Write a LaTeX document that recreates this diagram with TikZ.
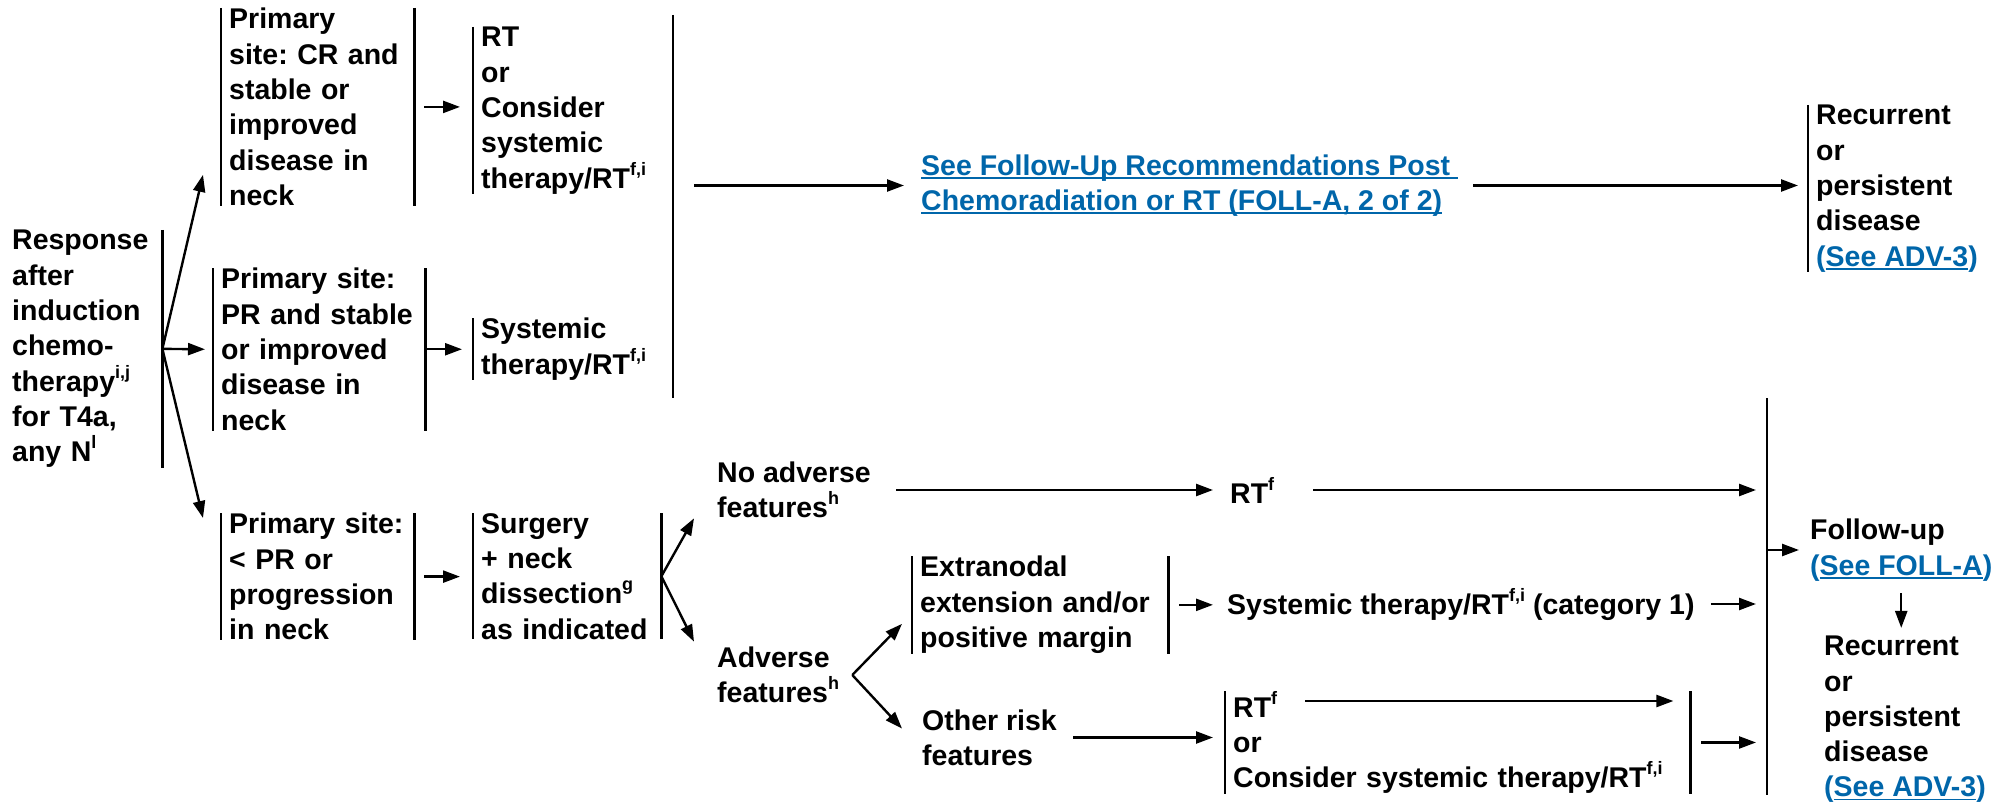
\documentclass[tikz,border=0pt]{standalone}
\usepackage{fontspec}
\setmainfont{Liberation Sans}
\usetikzlibrary{arrows.meta,calc,positioning}
\definecolor{linkblue}{RGB}{0,102,170}
\newcommand{\linkline}[1]{\setbox0\hbox{#1}\rlap{\rule[-3.5pt]{\wd0}{1.6pt}}\box0}
\newcommand{\fnote}[1]{\raisebox{13pt}{\fontsize{18}{18}\selectfont #1}}

\tikzset{
  every node/.style={font=\bfseries\fontsize{28.5}{35.3}\selectfont\frenchspacing},
  stage/.style={align=left, inner xsep=8pt, inner ysep=0pt, anchor=north west},
  note/.style={align=left, inner sep=0pt, anchor=west},
  bar/.style={line width=2.4pt},
  arr/.style={line width=2.4pt, -{Triangle[length=17pt,width=12pt]}},
}

\begin{document}
\begin{tikzpicture}[x=1pt, y=-1pt]
  \useasboundingbox (0,0) rectangle (2011,805);

  % first column
  \node[stage, text width=142pt] (resp) at (4,230)
    {Response\\after\\induction\\chemo-\\therapy\fnote{i,j}\\for T4a,\\any N\fnote{l}};

  % response groups
  \node[stage, text width=177pt] (cr) at (221,8)
    {Primary\\site: CR and\\stable or\\improved\\disease in\\neck};
  \node[stage, text width=196pt] (pr) at (213,268)
    {Primary site:\\PR and stable\\or improved\\disease in\\neck};
  \node[stage, text width=177pt] (lpr) at (221,513)
    {Primary site:\\< PR or\\progression\\in neck};

  % treatment
  \node[stage] (crrt) at (473,27)
    {RT\\or\\Consider\\systemic\\therapy/RT\fnote{f,i}};
  \node[stage] (prrt) at (473,318)
    {Systemic\\therapy/RT\fnote{f,i}};
  \node[stage, text width=172pt] (surg) at (473,513)
    {Surgery\\+ neck\\dissection\fnote{g}\\as indicated};

  % follow-up, top branch
  \node[note, text=linkblue] (link) at (921,185.5)
    {\linkline{See Follow-Up Recommendations Post\ }\\\linkline{Chemoradiation or RT (FOLL-A, 2 of 2)}};
  \node[stage] (recur1) at (1808,105)
    {Recurrent\\or\\persistent\\disease\\\textcolor{linkblue}{(\linkline{See ADV-3})}};

  % pathology after surgery
  \node[note] (noadv) at (717,490) {No adverse\\features\fnote{h}};
  \node[note] (rtf) at (1230,490) {RT\fnote{f}};
  \node[note] (adv) at (717,675) {Adverse\\features\fnote{h}};
  \node[stage, text width=240pt] (extra) at (912,556)
    {Extranodal\\extension and/or\\positive margin};
  \node[note] (sys1) at (1227,604)
    {Systemic therapy/RT\fnote{f,i} (category 1)};
  \node[note] (other) at (922,737.5) {Other risk\\features};
  \node[stage, text width=449pt] (rtor) at (1225,691)
    {RT\fnote{f}\\or\\Consider systemic therapy/RT\fnote{f,i}};

  % follow-up, bottom branch
  \node[note] (follow) at (1810,550)
    {Follow-up\\\textcolor{linkblue}{(\linkline{See FOLL-A})}};
  \node[note] (recur2) at (1824,719.5)
    {Recurrent\\or\\persistent\\disease\\\textcolor{linkblue}{(\linkline{See ADV-3})}};

  % brackets
  \foreach \n in {cr,pr,lpr,surg,extra,rtor}
    \draw[bar] (\n.north west) -- (\n.south west) (\n.north east) -- (\n.south east);
  \foreach \n in {crrt,prrt,recur1}
    \draw[bar] (\n.north west) -- (\n.south west);
  \draw[bar] (resp.north east) -- (resp.south east);
  \draw[bar] (673,15) coordinate (bigtop) -- (673,398);
  \draw[bar] (1767,398) coordinate (rtop) -- (1767,795);

  % connectors
  \draw[arr] (resp.east) -- ($(cr.south west)+(-18,-31)$);
  \draw[arr] (resp.east) -- ($(pr.west)+(-8,0)$);
  \draw[arr] (resp.east) -- ($(lpr.north west)+(-18,5)$);
  \draw[arr] ($(cr.east)+(10,0)$) -- ($(crrt.west |- cr.east)+(-13,0)$);
  \draw[arr] ($(pr.east)+(2,0)$) -- ($(prrt.west |- pr.east)+(-11,0)$);
  \draw[arr] ($(lpr.east)+(10,0)$) -- ($(surg.west |- lpr.east)+(-13,0)$);
  \draw[arr] ($(bigtop |- link.west)+(21,0)$) -- ($(link.west)+(-17,0)$);
  \draw[arr] ($(link.east)+(15,0)$) -- ($(recur1.west |- link.east)+(-10,0)$);
  \draw[arr] (surg.east) -- ($(noadv.south west)+(-23,0)$);
  \draw[arr] (surg.east) -- ($(adv.north west)+(-23,-5)$);
  \draw[arr] ($(noadv.east)+(25,0)$) -- ($(rtf.west)+(-17,0)$);
  \draw[arr] ($(rtf.east)+(39,0)$) -- ($(rtop |- rtf.east)+(-11,0)$);
  \draw[arr] ($(adv.east)+(13,0)$) -- ($(extra.west)+(-10,19)$);
  \draw[arr] ($(adv.east)+(13,0)$) -- ($(other.west)+(-20,-9)$);
  \draw[arr] ($(extra.east)+(11,0)$) -- ($(sys1.west |- extra.east)+(-14,0)$);
  \draw[arr] ($(sys1.east)+(16,0)$) -- ($(rtop |- sys1.east)+(-11,0)$);
  \draw[arr] ($(other.east)+(16,0)$) -- ($(rtor.west |- other.east)+(-12,0)$);
  \draw[arr] ($(rtor.north west)+(80,10)$) -- ($(rtor.north east)+(-17,10)$);
  \draw[arr] ($(rtor.east)+(11,0)$) -- ($(rtop |- rtor.east)+(-11,0)$);
  \draw[arr] (rtop |- follow.west) -- ($(follow.west)+(-11,0)$);
  \draw[arr] ($(follow.south)+(0,12)$) -- ($(follow.south |- recur2.north)+(0,-8)$);
\end{tikzpicture}
\end{document}
